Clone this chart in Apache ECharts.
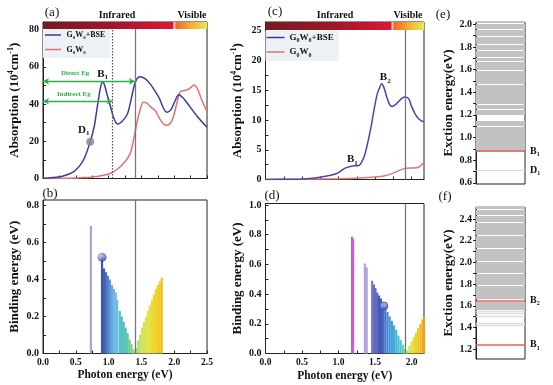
<!DOCTYPE html>
<html><head><meta charset="utf-8">
<script src="https://cdn.jsdelivr.net/npm/echarts@6/dist/echarts.min.js"></script>
<style>html,body{margin:0;padding:0;background:#fff}#c{width:553px;height:385px}</style>
</head><body><div id="c"></div>
<script>
// ---------- DATA ----------
// (a) absorption, Ga-type system
const aBseE = [0.00,0.15,0.31,0.47,0.57,0.64,0.72,0.78,0.82,0.85,0.88,0.91,0.94,0.97,1.03,1.08,1.14,1.20,1.28,1.33,1.41,1.48,1.55,1.63,1.76,1.89,1.95,2.01,2.07,2.13,2.20,2.35,2.50];
const aBseV = [0,0.5,1.3,3.7,7.3,11.7,19.8,27.8,36.8,43.5,49.5,52,50,46,38.6,32.4,29.3,30.5,34.1,40.4,52,54.7,53.8,51,44,35.6,37,41.5,45,43.5,40.4,33.5,27.5];
const aGwE = [0.00,0.30,0.57,0.82,1.03,1.15,1.25,1.33,1.38,1.43,1.48,1.53,1.58,1.64,1.71,1.78,1.84,1.89,1.97,2.04,2.09,2.15,2.20,2.25,2.30,2.35,2.42,2.50];
const aGwV = [0,0.1,0.4,1.1,2.8,5.5,9,13.5,20.7,29.7,36.8,41,40.6,38.5,36.5,32,29.2,28.6,31.5,40.4,46.5,47.3,47.6,48.8,50.3,48.5,42.2,35.9];
const aDirectEg = 1.40, aIndirectEg = 1.06;
const aD1 = [0.72, 19.8];
// (b) binding energies
const bE = [0.73,0.90,0.93,0.96,0.99,1.02,1.05,1.08,1.11,1.13,1.17,1.20,1.23,1.26,1.29,1.32,1.35,1.38,1.40,1.42,1.45,1.48,1.51,1.54,1.57,1.60,1.63,1.66,1.69,1.72,1.75,1.78,1.81];
const bV = [0.69,0.52,0.46,0.44,0.42,0.40,0.37,0.35,0.33,0.29,0.23,0.20,0.17,0.14,0.11,0.075,0.05,0.025,0.01,0.03,0.07,0.10,0.14,0.17,0.20,0.23,0.26,0.29,0.32,0.35,0.37,0.39,0.41];
const bBall = [0.90, 0.52];
// (c) absorption, second system
const cBseE = [0.00,0.30,0.52,0.70,0.84,0.975,1.09,1.16,1.22,1.27,1.32,1.36,1.40,1.45,1.49,1.53,1.56,1.59,1.62,1.66,1.70,1.73,1.78,1.82,1.87,1.91,1.96,2.00,2.05,2.09,2.13,2.17];
const cBseV = [0,0.05,0.1,0.3,0.6,1.0,1.9,2.2,2.3,2.3,3.0,4.2,6.2,9.2,12,14.4,15.4,16.1,15.5,13.9,12.6,12.3,12.6,13.1,13.7,13.9,13.6,12.3,11.0,10.3,9.9,9.7];
const cGwE = [0.00,0.50,1.00,1.30,1.50,1.62,1.72,1.82,1.88,1.93,1.98,2.04,2.10,2.14,2.17];
const cGwV = [0,0.03,0.12,0.25,0.42,0.6,0.95,1.45,1.75,1.9,1.95,1.95,2.1,2.5,2.9];
const cGap = 1.92;
// (d) binding energies
const dE = [1.185,1.20,1.36,1.385,1.46,1.485,1.505,1.53,1.555,1.58,1.61,1.64,1.67,1.70,1.73,1.76,1.79,1.82,1.85,1.88,1.90,1.92,1.94,1.97,2.00,2.03,2.06,2.09,2.12,2.15,2.17];
const dV = [0.786,0.77,0.606,0.58,0.49,0.465,0.44,0.41,0.39,0.37,0.34,0.31,0.28,0.25,0.22,0.19,0.16,0.12,0.09,0.06,0.03,0.01,0.02,0.05,0.08,0.11,0.14,0.17,0.20,0.23,0.245];
const dBall = [1.62, 0.32];
// (e) exciton levels
const eLevels = [0.902,0.914,0.926,0.938,0.950,0.962,0.974,0.986,
 1.010,1.022,1.034,1.046,1.058,1.082,1.094,1.106,1.118,1.130,1.142,
 1.212,1.224,1.236,1.260,1.272,1.284,1.308,1.320,1.332,1.344,1.356,1.368,1.392,1.404,1.416,1.428,1.452,1.464,1.476,1.488,1.500,1.524,1.536,1.548,1.560,1.572,1.584,1.608,1.620,1.632,1.644,1.656,
 1.692,1.704,1.716,1.728,1.740,1.752,1.764,1.776,1.788,1.800,1.812,
 1.836,1.848,1.860,1.872,1.884,1.908,1.920,1.932,1.944,1.968,1.980,1.992,2.004,2.016];
const eBright = [0.877];
const eDark = [0.715];
// (f) exciton levels
const fLevels = [2.508,2.496,2.484,2.472,2.460,2.448,2.424,2.412,2.400,2.388,2.376,2.364,2.352,2.340,2.328,2.316,2.304,2.292,2.280,2.268,2.256,2.244,2.232,2.220,2.208,2.196,2.184,2.172,2.160,2.148,2.136,2.124,2.112,2.100,2.076,2.064,2.052,2.040,2.028,2.016,2.004,1.992,1.980,1.968,1.956,1.944,1.932,1.920,1.908,
 1.890,1.872,1.860,1.842,1.830,1.812,1.800,1.782,1.764,1.752,1.740,1.722,1.710,1.698,1.686,1.674,
 1.632,1.620,1.608,1.596,1.584,1.572];
const fFaint = [1.555,1.528,1.500,1.440,1.415];
const fBright = [1.653,1.238];
// tick labels
const abXTicks = [0,0.5,1,1.5,2,2.5];
const aYTicks = [0,20,40,60,80];
const bYTicks = [0,0.2,0.4,0.6,0.8];
const cdXTicks = [0,0.5,1,1.5,2];
const cYTicks = [0,5,10,15,20,25];
const dYTicks = [0,0.2,0.4,0.6,0.8,1.0];
const eYTicks = [0.6,0.8,1.0,1.2,1.4,1.6,1.8,2.0];
const fYTicks = [1.2,1.4,1.6,1.8,2.0,2.2,2.4];

// ---------- CHART ----------
const FONT = "'Liberation Serif','Times New Roman',serif";
const INK = '#111';
const zip = (xs, ys) => xs.map((x, i) => [x, ys[i]]);
const halfSteps = (t) => { const r = []; for (let i = 0; i < t.length; i++) { r.push(t[i]); if (i < t.length - 1) r.push((t[i] + t[i+1]) / 2); } return r; };
const bar = () => new echarts.graphic.LinearGradient(0,0,1,0,[
  {offset:0,color:'#761a22'},{offset:0.4,color:'#9c1629'},{offset:0.79,color:'#dc1934'},
  {offset:0.80,color:'#f4d8c8'},{offset:0.812,color:'#f06a28'},{offset:0.9,color:'#f3ad30'},{offset:1,color:'#e4ec55'}]);
const ball = () => new echarts.graphic.RadialGradient(0.35,0.35,0.7,[{offset:0,color:'#b8c6f4'},{offset:1,color:'#2c3c9c'}]);
const richN = (sz) => ({
  n:{fontSize:sz,fontWeight:'bold',fontFamily:FONT,color:INK,lineHeight:sz+3},
  u:{fontSize:Math.round(sz*0.62),fontWeight:'bold',fontFamily:FONT,color:INK,verticalAlign:'top',lineHeight:sz+3},
  s:{fontSize:Math.round(sz*0.62),fontWeight:'bold',fontFamily:FONT,color:INK,verticalAlign:'bottom',lineHeight:sz+3}
});
const legName = (n) => n === 'G0W0+BSE' ? '{n|G}{s|0}{n|W}{s|0}{n|+BSE}' : '{n|G}{s|0}{n|W}{s|0}';
const LINE_ICON = 'path://M0,0L0.05,0L0.05,0.05Z M0,10L0.05,10L0.05,9.95Z M0,4.2H20V5.8H0Z';

function xAx(gi, min, max, ticks, showLabels, name, gap) {
  return {type:'value', gridIndex:gi, min, max,
    axisLine:{show:true,onZero:false,lineStyle:{color:'#222',width:1}},
    axisTick:{show:true,inside:true,length:3,customValues:halfSteps(ticks),lineStyle:{color:'#222'}},
    axisLabel:{show:showLabels,customValues:ticks,formatter:v=>v.toFixed(1),fontFamily:FONT,fontWeight:'bold',fontSize:9.5,color:INK,margin:4},
    splitLine:{show:false},
    name: name||'', nameLocation:'middle', nameGap: gap||0,
    nameTextStyle:{fontFamily:FONT,fontWeight:'bold',fontSize:11.5,color:INK}};
}
function yAx(gi, min, max, ticks, fmt, name, gap, inside) {
  return {type:'value', gridIndex:gi, min, max,
    axisLine:{show:true,onZero:false,lineStyle:{color:'#222',width:1}},
    axisTick:{show:true,inside:inside!==false,length:3,customValues:halfSteps(ticks),lineStyle:{color:'#222'}},
    axisLabel:{customValues:ticks,formatter:fmt,fontFamily:FONT,fontWeight:'bold',fontSize:10,color:INK,margin:4},
    splitLine:{show:false},
    name, nameLocation:'middle', nameGap:gap, nameRotate:90,
    nameTextStyle:{rich:richN(13)}};
}
const absName = '{n|Absorption (10}{u|4}{n|cm}{u|-1}{n|)}';
const bindName = '{n|Binding energy (eV)}';
const excName = '{n|Exction energy(eV)}';
const gb = {show:true,borderColor:'#222',borderWidth:1,backgroundColor:'transparent'};
const vline = (x, y0, y1, dotted) => [{coord:[x,y0],symbol:'none',lineStyle:{color:dotted?'#555':'#777',width:dotted?1.2:1.3,type:dotted?[1.5,1.5]:'solid'}},{coord:[x,y1],symbol:'none'}];
const arrow = (x0, x1, y) => [{coord:[x0,y],symbol:'arrow',symbolSize:[5,6],lineStyle:{color:'#2bb04a',width:1.4,type:'solid'}},{coord:[x1,y],symbol:'arrow',symbolSize:[5,6]}];
const txt = (coord, fmt, extra) => ({coord, symbol:'circle', symbolSize:0, label:Object.assign({show:true,position:'inside',formatter:fmt,rich:richN(11)},extra||{})});
const levelLines = (vals, color, w) => vals.map(v => ({yAxis:v, lineStyle:{color, width:w, type:'solid'}}));

const chart = echarts.init(document.getElementById('c'), null, {renderer:'canvas'});
const option = {
  animation:false,
  backgroundColor:'#fff',
  grid:[
    Object.assign({left:43, top:22, width:164, height:156.5}, gb),
    Object.assign({left:43, top:200, width:164, height:153.5}, gb),
    Object.assign({left:265.5, top:22, width:158.5, height:157.5}, gb),
    Object.assign({left:265.5, top:203.5, width:158.5, height:150}, gb),
    Object.assign({left:476, top:22, width:49, height:162}, gb),
    Object.assign({left:476, top:207, width:49, height:152}, gb)
  ],
  xAxis:[
    xAx(0,0,2.5,abXTicks,false),
    xAx(1,0,2.5,abXTicks,true,'Photon energy (eV)',16),
    xAx(2,0,2.17,cdXTicks,false),
    xAx(3,0,2.17,cdXTicks,true,'Photon energy (eV)',17),
    {type:'value',gridIndex:4,min:0,max:1,show:false},
    {type:'value',gridIndex:5,min:0,max:1,show:false}
  ],
  yAxis:[
    yAx(0,0,84.1,aYTicks,v=>String(v),absName,20),
    yAx(1,0,0.83,bYTicks,v=>v.toFixed(1),bindName,20),
    yAx(2,0,26.5,cYTicks,v=>String(v),absName,20),
    yAx(3,0,1.01,dYTicks,v=>v.toFixed(1),bindName,20),
    yAx(4,0.59,2.02,eYTicks,v=>v.toFixed(1),excName,19,false),
    yAx(5,1.11,2.51,fYTicks,v=>v.toFixed(1),excName,19,false)
  ],
  legend:[
    {left:43, top:29, orient:'vertical', data:['G0W0+BSE','G0W0'], icon:LINE_ICON, itemWidth:17, itemHeight:8, itemGap:5,
     padding:[2,5,3,2], backgroundColor:'#edf1f6', formatter:legName, textStyle:{rich:richN(8)}},
    {left:265.5, top:31, orient:'vertical', data:['G0W0+BSE','G0W0'], icon:LINE_ICON, itemWidth:18, itemHeight:9, itemGap:4,
     padding:[2,5,3,1], backgroundColor:'#edf1f6', formatter:legName, textStyle:{rich:richN(9)}}
  ],
  visualMap:[
    {type:'continuous', show:false, seriesIndex:3, dimension:0, min:0.70, max:1.82,
     inRange:{color:['#b4b8e0','#8088c8','#3c4a9c','#4062b0','#5a98d8','#78c0ea','#4cbcc4','#50c0b0','#78d090','#a8dc78','#c8e468','#dfe450','#ecdc38','#f2d028','#f0c020']}},
    {type:'continuous', show:false, seriesIndex:7, dimension:0, min:1.18, max:2.17,
     inRange:{color:['#c05cc8','#b888d8','#b0a8e0','#7070c8','#3d58b0','#4a88d0','#40b4e2','#58ccc0','#d8e640','#f0d020','#f0a020']}}
  ],
  series:[
    {name:'G0W0+BSE', type:'line', xAxisIndex:0, yAxisIndex:0, data:zip(aBseE,aBseV), smooth:0.35, symbol:'none',
     lineStyle:{color:'#3b3b9e',width:1.5}, itemStyle:{color:'#3b3b9e'}, z:3,
     markArea:{silent:true, data:[[{coord:[0,80.4]},{coord:[2.5,84.1]}]], itemStyle:{color:bar()}},
     markLine:{silent:true, symbol:'none', label:{show:false},
       data:[vline(aDirectEg,0,80.4,false), vline(aIndirectEg,0,80.4,true), arrow(0,aDirectEg,52.2), arrow(0,aIndirectEg,41.5)]},
     markPoint:{silent:true, data:[
       txt([0.91,56.2],'{n|B}{s|1}'),
       txt([0.62,26],'{n|D}{s|1}'),
       txt([0.49,56.5],'Direct Eg',{color:'#2bb04a',fontFamily:FONT,fontWeight:'bold',fontSize:7,rich:{}}),
       txt([0.47,45.3],'Indirect Eg',{color:'#2bb04a',fontFamily:FONT,fontWeight:'bold',fontSize:7,rich:{}})
     ]}},
    {name:'G0W0', type:'line', xAxisIndex:0, yAxisIndex:0, data:zip(aGwE,aGwV), smooth:0.35, symbol:'none',
     lineStyle:{color:'#e07272',width:1.5}, itemStyle:{color:'#e07272'}, z:2},
    {type:'scatter', xAxisIndex:0, yAxisIndex:0, data:[aD1], symbolSize:8, itemStyle:{color:'#858585'}, z:5},
    {type:'bar', xAxisIndex:1, yAxisIndex:1, data:zip(bE,bV), barWidth:2.2, z:2,
     markLine:{silent:true, symbol:'none', label:{show:false}, data:[vline(aDirectEg,0,0.83,false)]}},
    {type:'scatter', xAxisIndex:1, yAxisIndex:1, data:[bBall], symbolSize:9, itemStyle:{color:ball()}, z:5},
    {name:'G0W0+BSE', type:'line', xAxisIndex:2, yAxisIndex:2, data:zip(cBseE,cBseV), smooth:0.35, symbol:'none',
     lineStyle:{color:'#4848aa',width:1.5}, itemStyle:{color:'#3b3b9e'}, z:3,
     markArea:{silent:true, data:[[{coord:[0,25.15]},{coord:[2.17,26.5]}]], itemStyle:{color:bar()}},
     markLine:{silent:true, symbol:'none', label:{show:false}, data:[vline(cGap,0,25.15,false)]},
     markPoint:{silent:true, data:[txt([1.64,17.2],'{n|B}{s|2}'), txt([1.19,3.4],'{n|B}{s|1}')]}},
    {name:'G0W0', type:'line', xAxisIndex:2, yAxisIndex:2, data:zip(cGwE,cGwV), smooth:0.35, symbol:'none',
     lineStyle:{color:'#e07878',width:1.5}, itemStyle:{color:'#e07272'}, z:2},
    {type:'bar', xAxisIndex:3, yAxisIndex:3, data:zip(dE,dV), barWidth:2.2, z:2,
     markLine:{silent:true, symbol:'none', label:{show:false}, data:[vline(cGap,0,1.01,false)]}},
    {type:'scatter', xAxisIndex:3, yAxisIndex:3, data:[dBall], symbolSize:8, itemStyle:{color:ball(),borderColor:'#3050c0',borderWidth:1}, z:5},
    {type:'scatter', xAxisIndex:4, yAxisIndex:4, data:[], 
     markLine:{silent:true, symbol:'none', label:{show:false}, data:levelLines(eLevels,'#c2c2c2',1.9)}},
    {type:'scatter', xAxisIndex:4, yAxisIndex:4, data:[],
     markLine:{silent:true, symbol:'none', label:{show:true,position:'end',distance:5,formatter:p=>p.value<0.8?'{n|D}{s|1}':'{n|B}{s|1}',rich:richN(10)},
       data:levelLines(eBright,'#e8484f',1.5).concat(levelLines(eDark,'#d8d8d8',1.2))}},
    {type:'scatter', xAxisIndex:5, yAxisIndex:5, data:[],
     markLine:{silent:true, symbol:'none', label:{show:false}, data:levelLines(fLevels,'#c2c2c2',1.9).concat(levelLines(fFaint,'#dedede',1.3))}},
    {type:'scatter', xAxisIndex:5, yAxisIndex:5, data:[],
     markLine:{silent:true, symbol:'none', label:{show:true,position:'end',distance:5,formatter:p=>p.value>1.5?'{n|B}{s|2}':'{n|B}{s|1}',rich:richN(10)},
       data:levelLines(fBright,'#e8606a',1.5)}}
  ],
  graphic:[
    {type:'text', x:52, y:13, style:{text:'(a)', font:`13px ${FONT}`, fill:INK, align:'center', verticalAlign:'middle'}},
    {type:'text', x:50, y:194, style:{text:'(b)', font:`13px ${FONT}`, fill:INK, align:'center', verticalAlign:'middle'}},
    {type:'text', x:275, y:12, style:{text:'(c)', font:`13px ${FONT}`, fill:INK, align:'center', verticalAlign:'middle'}},
    {type:'text', x:272, y:196, style:{text:'(d)', font:`13px ${FONT}`, fill:INK, align:'center', verticalAlign:'middle'}},
    {type:'text', x:443, y:15, style:{text:'(e)', font:`13px ${FONT}`, fill:INK, align:'center', verticalAlign:'middle'}},
    {type:'text', x:445, y:197, style:{text:'(f)', font:`13px ${FONT}`, fill:INK, align:'center', verticalAlign:'middle'}},
    {type:'text', x:117, y:15, style:{text:'Infrared', font:`bold 10px ${FONT}`, fill:INK, align:'center', verticalAlign:'middle'}},
    {type:'text', x:192, y:15, style:{text:'Visible', font:`bold 10px ${FONT}`, fill:INK, align:'center', verticalAlign:'middle'}},
    {type:'text', x:335, y:15, style:{text:'Infrared', font:`bold 10px ${FONT}`, fill:INK, align:'center', verticalAlign:'middle'}},
    {type:'text', x:408, y:15, style:{text:'Visible', font:`bold 10px ${FONT}`, fill:INK, align:'center', verticalAlign:'middle'}}
  ]
};
chart.setOption(option);
</script></body></html>
